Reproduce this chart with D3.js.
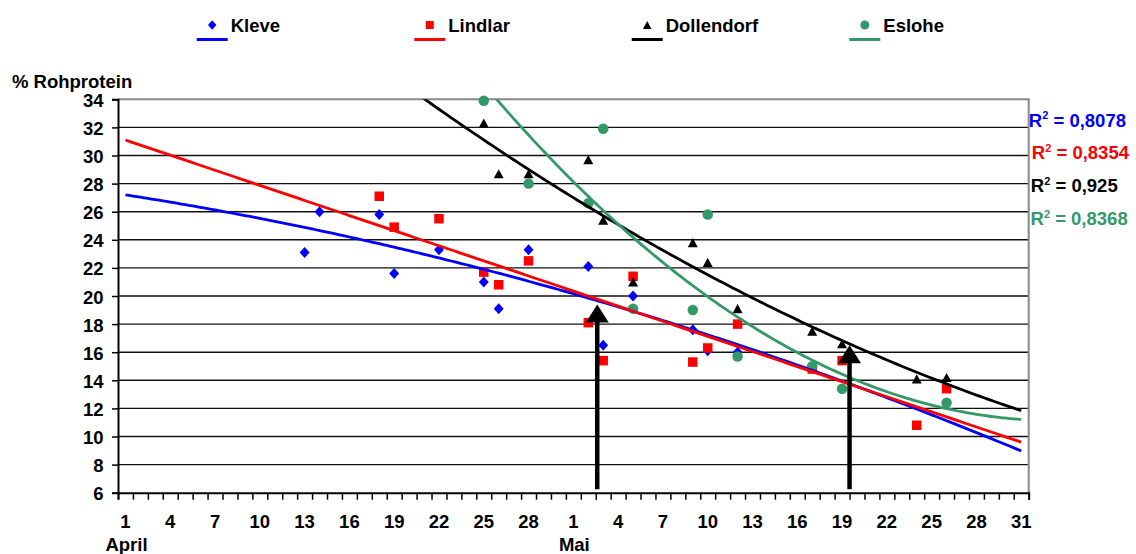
<!DOCTYPE html>
<html>
<head>
<meta charset="utf-8">
<script src="https://cdn.jsdelivr.net/npm/d3@7"></script>
<style>
  html, body { margin: 0; padding: 0; background: #fff; }
  svg { display: block; font-family: "Liberation Sans", Arial, sans-serif; font-weight: bold; }
</style>
</head>
<body>
<svg id="chart" width="1136" height="554"></svg>
<script>
// ---------- data (month, day, % Rohprotein) ----------
const seriesNames = ["Kleve", "Lindlar", "Dollendorf", "Eslohe"];
const seriesColors = ["#0000FF", "#FF0000", "#000000", "#339966"];
const seriesSymbols = ["diamond", "square", "triangle", "circle"];

const kleve = [[4,13,23.1],[4,14,26.0],[4,18,25.8],[4,19,21.6],[4,22,23.3],[4,25,21.0],[4,26,19.1],[4,28,23.3],
               [5,2,22.1],[5,3,16.5],[5,5,20.0],[5,9,17.6],[5,10,16.1],[5,12,16.0]];
const lindlar = [[4,18,27.1],[4,19,24.9],[4,22,25.5],[4,25,21.7],[4,26,20.8],[4,28,22.5],[5,2,18.1],[5,3,15.4],
                 [5,5,21.4],[5,9,15.3],[5,10,16.3],[5,12,18.0],[5,17,14.8],[5,19,15.4],[5,24,10.8],[5,26,13.4]];
const dollendorf = [[4,25,32.3],[4,26,28.7],[4,28,28.7],[5,2,29.7],[5,3,25.4],[5,5,21.0],[5,9,23.8],[5,10,22.4],
                    [5,12,19.1],[5,17,17.5],[5,19,16.6],[5,24,14.1],[5,26,14.2]];
const eslohe = [[4,25,33.9],[4,28,28.0],[5,2,26.6],[5,3,31.9],[5,5,19.1],[5,9,19.0],[5,10,25.8],[5,12,15.7],
                [5,17,15.0],[5,19,13.4],[5,26,12.4]];

// trend lines (polynomial coefficients c0 + c1*t + c2*t^2, t = days since 1 April)
const trendKleve = [27.2, -0.1655, -0.002305];
const trendLindlar = [31.1, -0.3583, 0];
const trendDollendorf = [51.10, -0.9522, 0.004963];
const trendEslohe = [74.63, -2.0427, 0.01643];
const r2Labels = ["0,8078", "0,8354", "0,925", "0,8368"];

// arrows (day offset from 1 April, top value)
const arrowDays = [31.6, 48.5];
const arrowTops = [19.4, 16.5];
const arrowBase = 6.25;

// axis labels
const yTicks = [6, 8, 10, 12, 14, 16, 18, 20, 22, 24, 26, 28, 30, 32, 34];
const aprilLabels = [1, 4, 7, 10, 13, 16, 19, 22, 25, 28];
const maiLabels = [1, 4, 7, 10, 13, 16, 19, 22, 25, 28, 31];
const monthLabels = ["April", "Mai"];
const yTitle = "% Rohprotein";

// ---------- layout ----------
const FS = 18.5;
const svg = d3.select("#chart");
const L = 118, R = 1028.7, T = 99.3, B = 492.7;
const dayIndex = (m, d) => (m === 4 ? d - 1 : 29 + d);
const x = d3.scaleLinear().domain([-0.5, 60.5]).range([L, R]);
const y = d3.scaleLinear().domain([6, 34]).range([B, T]);

const allSeries = [kleve, lindlar, dollendorf, eslohe];
const trends = [trendKleve, trendLindlar, trendDollendorf, trendEslohe];

// clip
svg.append("defs").append("clipPath").attr("id", "plotclip")
  .append("rect").attr("x", L).attr("y", T).attr("width", R - L).attr("height", B - T);

// gridlines
svg.append("g").selectAll("line").data(yTicks.filter(v => v > 6 && v < 34)).join("line")
  .attr("x1", L).attr("x2", R).attr("y1", d => y(d)).attr("y2", d => y(d))
  .attr("stroke", "#111").attr("stroke-width", 1.4);
// top and right border (gray)
svg.append("line").attr("x1", L).attr("x2", R + 1).attr("y1", y(34)).attr("y2", y(34))
  .attr("stroke", "#888").attr("stroke-width", 2);
svg.append("line").attr("x1", R).attr("x2", R).attr("y1", T).attr("y2", B)
  .attr("stroke", "#888").attr("stroke-width", 2);

// y axis
const yAxis = d3.axisLeft(y).tickValues(yTicks).tickSize(6).tickFormat(d3.format("d"));
const yg = svg.append("g").attr("transform", `translate(${L},0)`).call(yAxis);
yg.select(".domain").attr("stroke", "#000").attr("stroke-width", 2);
yg.selectAll(".tick line").attr("stroke", "#000").attr("stroke-width", 1.5);
yg.selectAll(".tick text").attr("x", -14.5).attr("dy", null).attr("y", 7)
  .attr("font-size", FS).attr("font-weight", "bold").attr("fill", "#000")
  .attr("font-family", "Liberation Sans, Arial, sans-serif");

// x axis: ticks at every day boundary
const xAxis = d3.axisBottom(x).tickValues(d3.range(-0.5, 61, 1)).tickSize(7).tickFormat("");
const xg = svg.append("g").attr("transform", `translate(0,${B})`).call(xAxis);
xg.select(".domain").attr("stroke", "#000").attr("stroke-width", 2);
xg.selectAll(".tick line").attr("stroke", "#000").attr("stroke-width", 1.5);

const xLabelData = aprilLabels.map(d => ({t: d, i: dayIndex(4, d)}))
  .concat(maiLabels.map(d => ({t: d, i: dayIndex(5, d)})));
svg.append("g").selectAll("text").data(xLabelData).join("text")
  .attr("x", d => x(d.i)).attr("y", 528.3).attr("text-anchor", "middle")
  .attr("font-size", FS).text(d => d.t);
svg.append("g").selectAll("text").data(monthLabels).join("text")
  .attr("x", (d, i) => x(dayIndex(4 + i, 1)) + 1).attr("y", 551).attr("text-anchor", "middle")
  .attr("font-size", FS).text(d => d);

// y title
svg.append("text").attr("x", 12).attr("y", 87.5).attr("font-size", FS).text(yTitle);

// symbol helper
function symbolPath(type, s) {
  if (type === "diamond") { const h = s * 0.55; return `M0,${-h}L${h * 0.9},0L0,${h}L${-h * 0.9},0Z`; }
  if (type === "square") { const h = s / 2; return `M${-h},${-h}H${h}V${h}H${-h}Z`; }
  if (type === "triangle") { const w = s * 0.5, h = s * 0.46; return `M0,${-h}L${w},${h}L${-w},${h}Z`; }
  const r = s / 2;
  return `M${r},0A${r},${r} 0 1,1 ${-r},0A${r},${r} 0 1,1 ${r},0Z`;
}
const markerSize = [10, 9.5, 10, 10.5];

// markers
allSeries.forEach((data, si) => {
  svg.append("g").selectAll("path").data(data).join("path")
    .attr("transform", d => `translate(${x(dayIndex(d[0], d[1]))},${y(d[2])})`)
    .attr("d", symbolPath(seriesSymbols[si], markerSize[si]))
    .attr("fill", seriesColors[si]);
});

// trend lines
const tGrid = d3.range(0, 60.001, 0.25);
const tl = svg.append("g").attr("clip-path", "url(#plotclip)");
trends.forEach((c, si) => {
  const pts = tGrid.map(t => [t, c[0] + c[1] * t + c[2] * t * t]).filter(p => p[1] <= 34.6);
  tl.append("path").datum(pts)
    .attr("d", d3.line().x(p => x(p[0])).y(p => y(p[1])))
    .attr("fill", "none").attr("stroke", seriesColors[si]).attr("stroke-width", 2.8);
});

// arrows
arrowDays.forEach((dd, i) => {
  const ax = x(dd), tipY = y(arrowTops[i]), baseY = y(arrowBase);
  const headH = 18, headW = 11.5;
  svg.append("line").attr("x1", ax).attr("x2", ax).attr("y1", baseY).attr("y2", tipY + headH - 1)
    .attr("stroke", "#000").attr("stroke-width", 4.5);
  svg.append("path").attr("d", `M${ax},${tipY}L${ax + headW},${tipY + headH}L${ax - headW},${tipY + headH}Z`)
    .attr("fill", "#000");
});

// legend
const legX = [196.7, 414.3, 631.7, 849.3];
seriesNames.forEach((n, i) => {
  const g = svg.append("g");
  g.append("line").attr("x1", legX[i]).attr("x2", legX[i] + 31).attr("y1", 39.5).attr("y2", 39.5)
    .attr("stroke", seriesColors[i]).attr("stroke-width", 3);
  g.append("path").attr("transform", `translate(${legX[i] + 15.5},25)`)
    .attr("d", symbolPath(seriesSymbols[i], markerSize[i] - 1.5)).attr("fill", seriesColors[i]);
  g.append("text").attr("x", legX[i] + 34).attr("y", 31.7).attr("font-size", FS).text(n);
});

// R² labels
const r2X = [1028.8, 1031.8, 1030.8, 1030.5];
const r2Y = [126.7, 159.3, 192.3, 225];
r2Labels.forEach((lab, i) => {
  const t = svg.append("text").attr("x", r2X[i]).attr("y", r2Y[i]).attr("font-size", FS)
    .attr("fill", seriesColors[i]);
  t.append("tspan").text("R");
  t.append("tspan").attr("font-size", 11).attr("dy", -7.4).text("2");
  t.append("tspan").attr("dy", 7.4).text(" = " + lab);
});
</script>
</body>
</html>
